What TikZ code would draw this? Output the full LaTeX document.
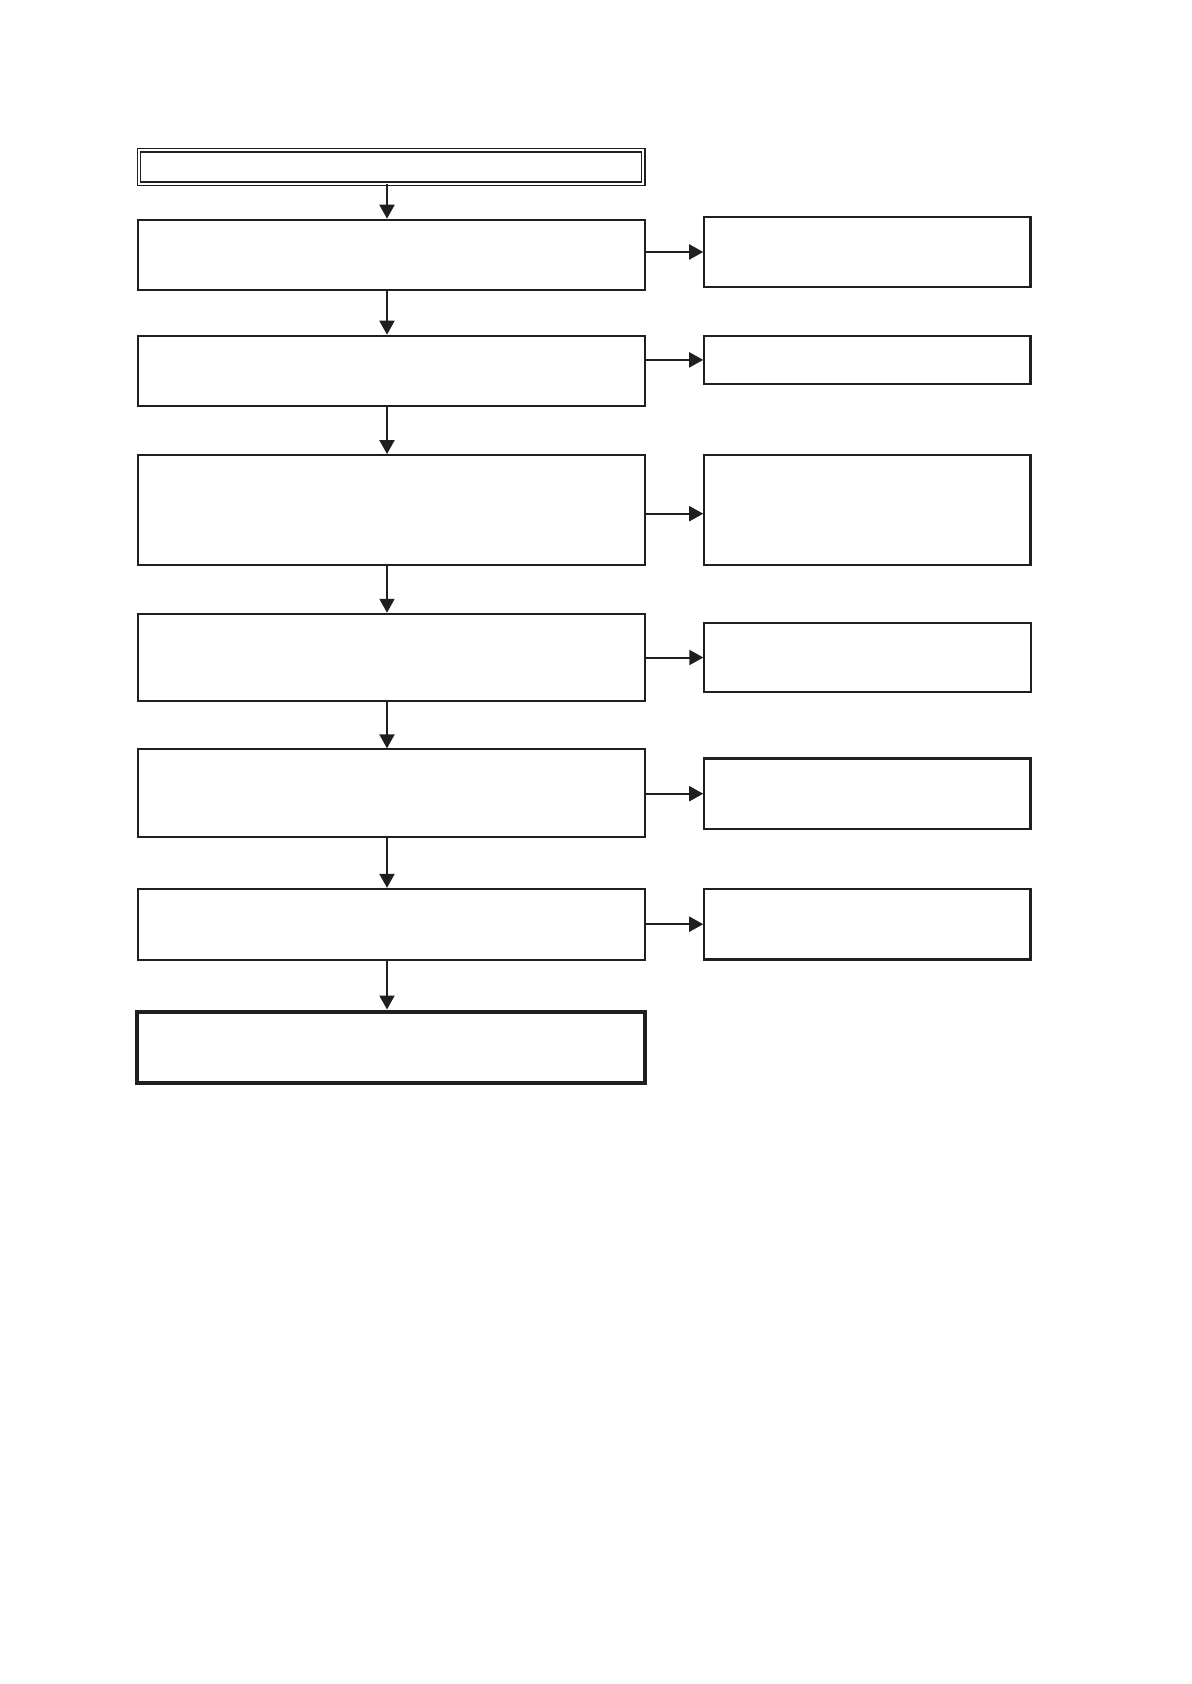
\documentclass[tikz,border=0pt]{standalone}
\usetikzlibrary{arrows.meta}
\begin{document}
\begin{tikzpicture}[x=0.5pt,y=-0.5pt,
  box/.style={draw=black!88, line width=1pt, inner sep=0pt, fill=white},
  lbox/.style={box, minimum width=253.6pt},
  rbox/.style={box, minimum width=163.1pt},
  arr/.style={line width=1pt, draw=black!88, -{Triangle[length=7pt,width=7.5pt]}}]
\fill[white] (0,0) rectangle (1191,1684);
\useasboundingbox (0,0) rectangle (1191,1684);
\coordinate (col) at (387,0);
% left column
\node[box, line width=0.65pt, double, double distance=1.1pt, minimum width=252.2pt, minimum height=16.75pt] (top) at (391.1,166.9) {};
\node[lbox, minimum height=35.15pt]  (b1) at (391.1,254.85) {};
\node[lbox, minimum height=35.3pt] (b2) at (391.1,371) {};
\node[lbox, minimum height=55.15pt]  (b3) at (391.1,510.2) {};
\node[lbox, minimum height=43.65pt]  (b4) at (391.1,657.4) {};
\node[lbox, minimum height=43.85pt]  (b5) at (391.1,793.2) {};
\node[lbox, minimum height=35.35pt]  (b6) at (391.1,924.2) {};
\node[box, line width=2pt, minimum width=254pt, minimum height=35.5pt] (fin) at (391,1047) {};
% right column
\node[rbox, line width=1.1pt, minimum height=35.3pt] (r1) at (867.4,252) {};
\node[rbox, line width=1.1pt, minimum height=24.15pt]  (r2) at (867.4,359.9) {};
\node[rbox, line width=1.1pt, minimum height=55.15pt]  (r3) at (867.4,510.2) {};
\node[rbox, minimum height=34.95pt]  (r4) at (867.4,657.5) {};
\node[rbox, line width=1.1pt, minimum height=35.25pt]  (r5) at (867.4,793.7) {};
\node[rbox, line width=1.1pt, minimum height=35.35pt]  (r6) at (867.4,924.2) {};
% vertical arrows
\draw[arr] (top.south -| col) -- (b1.north -| col);
\draw[arr] (b1.south -| col) -- (b2.north -| col);
\draw[arr] (b2.south -| col) -- (b3.north -| col);
\draw[arr] (b3.south -| col) -- (b4.north -| col);
\draw[arr] (b4.south -| col) -- (b5.north -| col);
\draw[arr] (b5.south -| col) -- (b6.north -| col);
\draw[arr] (b6.south -| col) -- (fin.north -| col);
% horizontal arrows
\draw[arr] (b1.east |- r1.west) -- (r1.west);
\draw[arr] (b2.east |- r2.west) -- (r2.west);
\draw[arr] ([yshift=-1.75pt]b3.east |- r3.west) -- ([yshift=-1.75pt]r3.west);
\draw[arr] (b4.east |- r4.west) -- (r4.west);
\draw[arr] (b5.east |- r5.west) -- (r5.west);
\draw[arr] (b6.east |- r6.west) -- (r6.west);
\end{tikzpicture}
\end{document}
